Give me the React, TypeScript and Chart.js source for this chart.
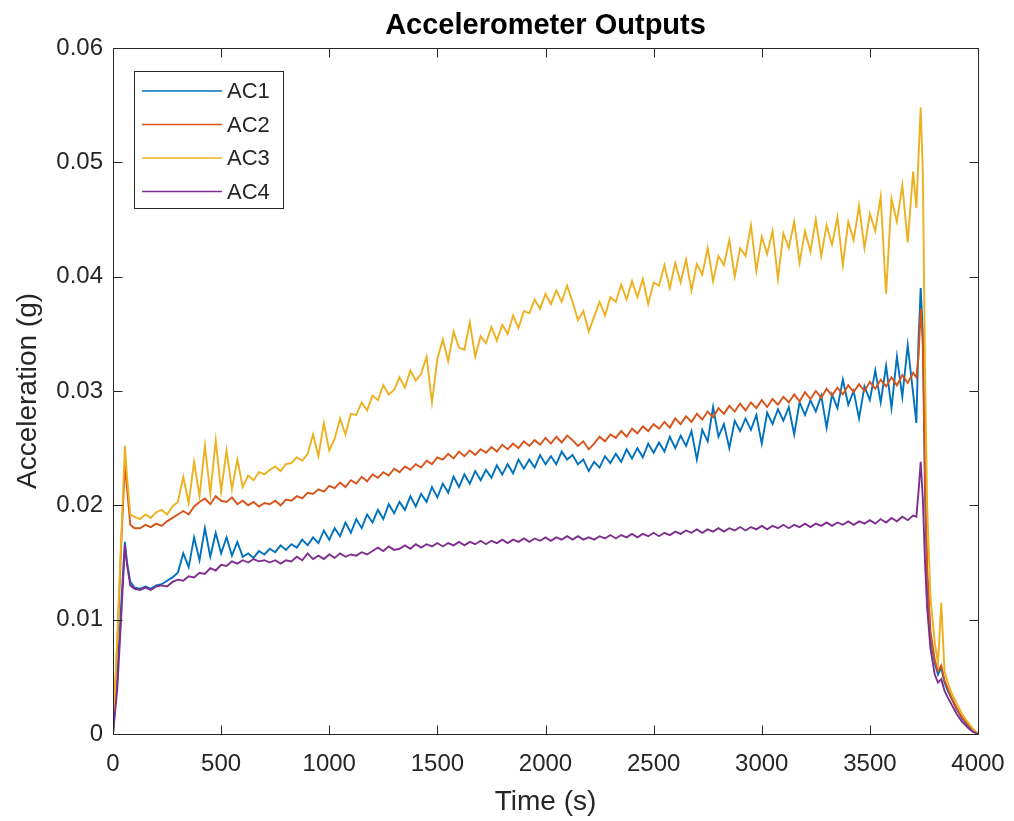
import React, { useEffect, useRef } from "react";
import { Chart, registerables } from "chart.js";

Chart.register(...registerables);

const chartTitle = "Accelerometer Outputs";
const xAxisLabel = "Time (s)";
const yAxisLabel = "Acceleration (g)";
const seriesNames = ["AC1", "AC2", "AC3", "AC4"];
const seriesColors = ["#0072BD", "#D95319", "#EDB120", "#7E2F8E"];
const xTickValues = [0, 500, 1000, 1500, 2000, 2500, 3000, 3500, 4000];
const yTickValues = [0, 0.01, 0.02, 0.03, 0.04, 0.05, 0.06];

const timeS = [
  0, 20, 40, 55, 65, 80, 100,
  125, 150, 175, 200, 225, 250, 275, 300,
  325, 350, 375, 400, 425, 450, 475, 500,
  525, 550, 575, 600, 625, 650, 675, 700,
  725, 750, 775, 800, 825, 850, 875, 900,
  925, 950, 975, 1000, 1025, 1050, 1075, 1100,
  1125, 1150, 1175, 1200, 1225, 1250, 1275, 1300,
  1325, 1350, 1375, 1400, 1425, 1450, 1475, 1500,
  1525, 1550, 1575, 1600, 1625, 1650, 1675, 1700,
  1725, 1750, 1775, 1800, 1825, 1850, 1875, 1900,
  1925, 1950, 1975, 2000, 2025, 2050, 2075, 2100,
  2125, 2150, 2175, 2200, 2225, 2250, 2275, 2300,
  2325, 2350, 2375, 2400, 2425, 2450, 2475, 2500,
  2525, 2550, 2575, 2600, 2625, 2650, 2675, 2700,
  2725, 2750, 2775, 2800, 2825, 2850, 2875, 2900,
  2925, 2950, 2975, 3000, 3025, 3050, 3075, 3100,
  3125, 3150, 3175, 3200, 3225, 3250, 3275, 3300,
  3325, 3350, 3375, 3400, 3425, 3450, 3475, 3500,
  3525, 3550, 3575, 3600, 3625, 3650, 3675, 3700,
  3715, 3725, 3735, 3745, 3755, 3765, 3780, 3800, 3815,
  3830, 3845, 3860, 3880, 3900, 3925, 3950, 3975, 4000,
];

const ac1 = [
  0, 0.005, 0.012, 0.0168, 0.015, 0.0133, 0.0128,
  0.0127, 0.0129, 0.0127, 0.0130, 0.0131, 0.0134, 0.0137, 0.0141,
  0.0158, 0.0146, 0.0172, 0.0152, 0.0180, 0.0155, 0.0176, 0.0158,
  0.0172, 0.0156, 0.0168, 0.0155, 0.0158, 0.0154, 0.0160, 0.0157,
  0.0162, 0.0159, 0.0165, 0.0161, 0.0166, 0.0163, 0.0170, 0.0165,
  0.0172, 0.0167, 0.0178, 0.0170, 0.0180, 0.0173, 0.0185, 0.0176,
  0.0188, 0.0180, 0.0192, 0.0185, 0.0196, 0.0188, 0.0201, 0.0193,
  0.0203, 0.0196, 0.0208, 0.0199, 0.0210, 0.0203, 0.0216, 0.0207,
  0.0219, 0.0211, 0.0225, 0.0216, 0.0227, 0.0219, 0.0230, 0.0222,
  0.0231, 0.0224, 0.0235, 0.0227, 0.0236, 0.0228, 0.0240, 0.0232,
  0.0240, 0.0233, 0.0244, 0.0236, 0.0243, 0.0236, 0.0247, 0.0240,
  0.0244, 0.0236, 0.0240, 0.0230, 0.0238, 0.0233, 0.0243, 0.0237,
  0.0245, 0.0238, 0.0249, 0.0241, 0.0250, 0.0242, 0.0254, 0.0246,
  0.0255, 0.0247, 0.0260, 0.0250, 0.0261, 0.0252, 0.0265, 0.0240,
  0.0266, 0.0256, 0.0286, 0.0260, 0.0271, 0.0250, 0.0274, 0.0265,
  0.0276, 0.0266, 0.0279, 0.0254, 0.0281, 0.0271, 0.0284, 0.0274,
  0.0286, 0.0262, 0.0290, 0.0279, 0.0292, 0.0282, 0.0296, 0.0268,
  0.0297, 0.0285, 0.0310, 0.0288, 0.0300, 0.0276, 0.0304, 0.0292,
  0.0318, 0.0290, 0.0322, 0.0285, 0.0330, 0.0295, 0.0340, 0.0298,
  0.0272, 0.0345, 0.0390, 0.0350, 0.0210, 0.0135, 0.0085, 0.0062, 0.0052,
  0.0058, 0.0045, 0.0038, 0.0030, 0.0022, 0.0014, 0.0008, 0.0003, 0,
];

const ac2 = [
  0, 0.008, 0.0175, 0.0235, 0.0215, 0.0183, 0.0180,
  0.0180, 0.0183, 0.0181, 0.0184, 0.0182, 0.0186, 0.0189, 0.0192,
  0.0195, 0.0192, 0.0199, 0.0203, 0.0206, 0.0201, 0.0208, 0.0204,
  0.0203, 0.0207, 0.0201, 0.0204, 0.0200, 0.0203, 0.0199, 0.0202,
  0.0201, 0.0204, 0.0200, 0.0205, 0.0204, 0.0208, 0.0206, 0.0211,
  0.0210, 0.0214, 0.0212, 0.0217, 0.0215, 0.0220, 0.0216, 0.0222,
  0.0219, 0.0225, 0.0221, 0.0227, 0.0224, 0.0229, 0.0226, 0.0232,
  0.0229, 0.0234, 0.0231, 0.0236, 0.0233, 0.0239, 0.0236, 0.0242,
  0.0240, 0.0245, 0.0241, 0.0247, 0.0243, 0.0248, 0.0244, 0.0249,
  0.0246, 0.0251, 0.0247, 0.0253, 0.0249, 0.0254, 0.0250, 0.0256,
  0.0252, 0.0257, 0.0253, 0.0259, 0.0254, 0.0260, 0.0255, 0.0261,
  0.0257, 0.0252, 0.0256, 0.0249, 0.0254, 0.0260, 0.0256, 0.0262,
  0.0259, 0.0265, 0.0260, 0.0267, 0.0263, 0.0269, 0.0265, 0.0271,
  0.0267, 0.0273, 0.0268, 0.0276, 0.0271, 0.0278, 0.0273, 0.0280,
  0.0275, 0.0282, 0.0277, 0.0285, 0.0280, 0.0287, 0.0282, 0.0289,
  0.0283, 0.0290, 0.0285, 0.0292, 0.0286, 0.0293, 0.0288, 0.0295,
  0.0290, 0.0297, 0.0291, 0.0299, 0.0293, 0.0300, 0.0294, 0.0302,
  0.0296, 0.0303, 0.0297, 0.0305, 0.0299, 0.0306, 0.0300, 0.0308,
  0.0302, 0.0310, 0.0304, 0.0312, 0.0305, 0.0314, 0.0307, 0.0316,
  0.0312, 0.0330, 0.0372, 0.0340, 0.0225, 0.0145, 0.0090, 0.0065, 0.0055,
  0.0060, 0.0047, 0.0040, 0.0031, 0.0023, 0.0015, 0.0009, 0.0004, 0,
];

const ac3 = [
  0, 0.0085, 0.018, 0.0252, 0.0225, 0.0192, 0.0190,
  0.0188, 0.0192, 0.0189, 0.0194, 0.0196, 0.0192, 0.0199, 0.0203,
  0.0225, 0.0202, 0.0238, 0.0208, 0.0252, 0.0210, 0.0257, 0.0212,
  0.0248, 0.0214, 0.0240, 0.0216, 0.0226, 0.0222, 0.0229, 0.0227,
  0.0231, 0.0234, 0.0230, 0.0236, 0.0237, 0.0242, 0.0239, 0.0245,
  0.0262, 0.0243, 0.0272, 0.0248, 0.0258, 0.0276, 0.0262, 0.0280,
  0.0279, 0.0290, 0.0283, 0.0296, 0.0292, 0.0305, 0.0297, 0.0301,
  0.0312, 0.0303, 0.0318, 0.0309, 0.0315, 0.0330, 0.0290, 0.0328,
  0.0345, 0.0326, 0.0352, 0.0338, 0.0336, 0.0360, 0.0330, 0.0348,
  0.0342, 0.0356, 0.0344, 0.0358, 0.0350, 0.0366, 0.0355, 0.0370,
  0.0368, 0.0380, 0.0372, 0.0385, 0.0376, 0.0388, 0.0378, 0.0392,
  0.0378, 0.0362, 0.0370, 0.0352, 0.0365, 0.0378, 0.0366, 0.0382,
  0.0378, 0.0393, 0.0380, 0.0396, 0.0382, 0.0398, 0.0376, 0.0395,
  0.0392, 0.0410, 0.0390, 0.0412, 0.0395, 0.0415, 0.0388, 0.0411,
  0.0402, 0.0425, 0.0396, 0.0418, 0.0410, 0.0432, 0.0400, 0.0425,
  0.0418, 0.0445, 0.0405, 0.0435, 0.0420, 0.0440, 0.0398, 0.0438,
  0.0425, 0.0448, 0.0412, 0.0440, 0.0422, 0.0450, 0.0418, 0.0445,
  0.0428, 0.0452, 0.0410, 0.0448, 0.0432, 0.0462, 0.0425, 0.0455,
  0.0440, 0.0470, 0.0385, 0.0468, 0.0448, 0.0480, 0.0430, 0.0492,
  0.0460, 0.0505, 0.0548, 0.0490, 0.0320, 0.0200, 0.0120, 0.0080, 0.0062,
  0.0115, 0.0055, 0.0045, 0.0035, 0.0027, 0.0018, 0.0011, 0.0005, 0,
];

const ac4 = [
  0, 0.004, 0.011, 0.0165, 0.0148, 0.0130, 0.0127,
  0.0126, 0.0128, 0.0126, 0.0129, 0.0130, 0.0129, 0.0133, 0.0135,
  0.0134, 0.0138, 0.0137, 0.0141, 0.0140, 0.0145, 0.0143, 0.0148,
  0.0147, 0.0151, 0.0149, 0.0152, 0.0150, 0.0153, 0.0151, 0.0152,
  0.0150, 0.0152, 0.0149, 0.0152, 0.0151, 0.0155, 0.0152, 0.0158,
  0.0153, 0.0156, 0.0153, 0.0157, 0.0154, 0.0158, 0.0155, 0.0157,
  0.0156, 0.0159, 0.0157, 0.0160, 0.0163, 0.0160, 0.0164, 0.0161,
  0.0162, 0.0165, 0.0162, 0.0166, 0.0163, 0.0166, 0.0164, 0.0167,
  0.0164, 0.0167, 0.0165, 0.0168, 0.0165, 0.0168, 0.0166, 0.0169,
  0.0166, 0.0169, 0.0167, 0.0170, 0.0167, 0.0170, 0.0168, 0.0171,
  0.0168, 0.0171, 0.0169, 0.0172, 0.0169, 0.0172, 0.0170, 0.0173,
  0.0170, 0.0173, 0.0170, 0.0172, 0.0170, 0.0173, 0.0171, 0.0174,
  0.0171, 0.0174, 0.0172, 0.0175, 0.0172, 0.0175, 0.0173, 0.0176,
  0.0173, 0.0176, 0.0174, 0.0177, 0.0175, 0.0178, 0.0176, 0.0179,
  0.0176, 0.0179, 0.0177, 0.0180, 0.0177, 0.0180, 0.0178, 0.0181,
  0.0178, 0.0181, 0.0179, 0.0182, 0.0179, 0.0182, 0.0180, 0.0183,
  0.0180, 0.0183, 0.0181, 0.0184, 0.0181, 0.0184, 0.0182, 0.0185,
  0.0182, 0.0185, 0.0183, 0.0186, 0.0183, 0.0186, 0.0184, 0.0187,
  0.0184, 0.0188, 0.0185, 0.0189, 0.0186, 0.0190, 0.0187, 0.0191,
  0.0190, 0.0212, 0.0238, 0.0205, 0.0150, 0.0110, 0.0075, 0.0052, 0.0045,
  0.0048, 0.0038, 0.0032, 0.0025, 0.0018, 0.0011, 0.0006, 0.0002, 0,
];

const seriesValues = [ac1, ac2, ac3, ac4];

const FONT = '"Liberation Sans", Arial, Helvetica, sans-serif';
const TEXT = "#262626";

const matlabPlugin = {
  id: "matlabDecor",
  afterDraw(chart: any) {
    const { ctx, chartArea: a } = chart;
    const xs = chart.scales.x;
    const ys = chart.scales.y;
    ctx.save();
    ctx.strokeStyle = TEXT;
    ctx.lineWidth = 1;
    const L = Math.round(a.left) + 0.5;
    const R = Math.round(a.right) + 0.5;
    const T = Math.round(a.top) + 0.5;
    const B = Math.round(a.bottom) + 0.5;
    ctx.beginPath();
    ctx.rect(L, T, R - L, B - T);
    const tl = 9;
    xTickValues.forEach((v) => {
      const px = Math.round(xs.getPixelForValue(v)) + 0.5;
      ctx.moveTo(px, B);
      ctx.lineTo(px, B - tl);
      ctx.moveTo(px, T);
      ctx.lineTo(px, T + tl);
    });
    yTickValues.forEach((v) => {
      const py = Math.round(ys.getPixelForValue(v)) + 0.5;
      ctx.moveTo(L, py);
      ctx.lineTo(L + tl, py);
      ctx.moveTo(R, py);
      ctx.lineTo(R - tl, py);
    });
    ctx.stroke();

    // title
    ctx.fillStyle = "#000";
    ctx.font = `bold 29px ${FONT}`;
    ctx.textAlign = "center";
    ctx.textBaseline = "alphabetic";
    ctx.fillText(chartTitle, (a.left + a.right) / 2, 34);

    // axis labels
    ctx.fillStyle = TEXT;
    ctx.font = `28px ${FONT}`;
    ctx.fillText(xAxisLabel, (a.left + a.right) / 2, 810);
    ctx.save();
    ctx.translate(36, (a.top + a.bottom) / 2);
    ctx.rotate(-Math.PI / 2);
    ctx.fillText(yAxisLabel, 0, 0);
    ctx.restore();

    // legend
    const bx = 134.5, by = 71.5, bw = 149, bh = 137;
    ctx.fillStyle = "#fff";
    ctx.fillRect(bx, by, bw, bh);
    ctx.strokeStyle = TEXT;
    ctx.lineWidth = 1;
    ctx.strokeRect(bx, by, bw, bh);
    ctx.font = `22px ${FONT}`;
    ctx.textAlign = "left";
    ctx.textBaseline = "middle";
    seriesNames.forEach((name, i) => {
      const cy = 91 + i * 33.5;
      ctx.strokeStyle = seriesColors[i];
      ctx.lineWidth = 1.6;
      ctx.beginPath();
      ctx.moveTo(142, cy);
      ctx.lineTo(222, cy);
      ctx.stroke();
      ctx.fillStyle = TEXT;
      ctx.fillText(name, 227, cy + 1);
    });
    ctx.restore();
  },
};

export default function App() {
  const ref = useRef<HTMLCanvasElement | null>(null);
  useEffect(() => {
    document.body.style.margin = "0";
    const canvas = ref.current;
    if (!canvas) return;
    const datasets = seriesNames.map((name, i) => ({
      label: name,
      data: timeS.map((t, j) => ({ x: t, y: seriesValues[i][j] })),
      borderColor: seriesColors[i],
      backgroundColor: seriesColors[i],
      borderWidth: 1.9,
      pointRadius: 0,
      tension: 0,
      fill: false,
      order: 4 - i,
    }));
    const chart = new Chart(canvas, {
      type: "line",
      data: { datasets },
      options: {
        responsive: false,
        animation: false,
        layout: { padding: { top: 48, right: 36, bottom: 0, left: 0 } },
        plugins: {
          legend: { display: false },
          title: { display: false },
          tooltip: { enabled: false },
        },
        scales: {
          x: {
            type: "linear",
            min: 0,
            max: 4000,
            grid: { display: false, drawTicks: false },
            border: { display: false },
            afterFit: (s: any) => {
              s.height = 87;
              s.paddingLeft = 0;
              s.paddingRight = 0;
            },
            afterBuildTicks: (s: any) => {
              s.ticks = xTickValues.map((v) => ({ value: v }));
            },
            ticks: {
              padding: 16,
              maxRotation: 0,
              autoSkip: false,
              color: TEXT,
              font: { family: FONT, size: 24 },
              callback: (v: any) => String(v),
            },
          },
          y: {
            type: "linear",
            min: 0,
            max: 0.06,
            grid: { display: false, drawTicks: false },
            border: { display: false },
            afterFit: (s: any) => {
              s.width = 113;
              s.paddingTop = 0;
              s.paddingBottom = 0;
            },
            afterBuildTicks: (s: any) => {
              s.ticks = yTickValues.map((v) => ({ value: v }));
            },
            ticks: {
              padding: 10,
              autoSkip: false,
              color: TEXT,
              font: { family: FONT, size: 24 },
              callback: (v: any) => (v === 0 ? "0" : Number(v).toFixed(2)),
            },
          },
        },
      },
      plugins: [matlabPlugin],
    });
    return () => chart.destroy();
  }, []);
  return (
    <div style={{ position: "absolute", left: 0, top: 0, width: 1014, height: 821, background: "#fff" }}>
      <canvas ref={ref} width={1014} height={821} style={{ display: "block" }} />
    </div>
  );
}
